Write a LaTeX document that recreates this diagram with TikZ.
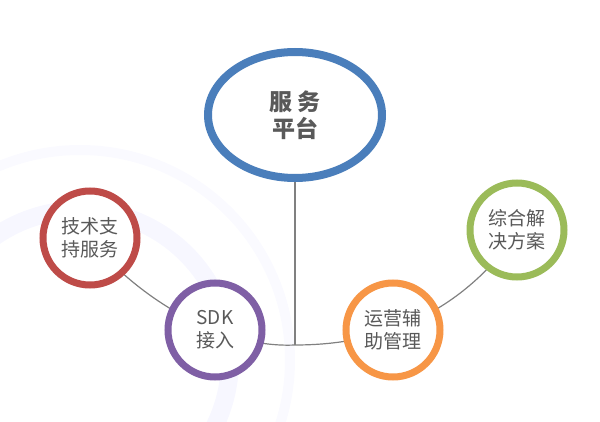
\documentclass[tikz,border=0pt]{standalone}
\usepackage{fontspec}
\setmainfont{Noto Sans CJK SC}
\usetikzlibrary{shapes.geometric}
\definecolor{hubblue}{HTML}{4A7EBB}
\definecolor{leafred}{HTML}{BE4B48}
\definecolor{leafpurple}{HTML}{7F5FA5}
\definecolor{leaforange}{HTML}{F79646}
\definecolor{leafgreen}{HTML}{9BBB59}
\definecolor{textgray}{HTML}{595959}
\tikzset{
  leaf/.style={circle, draw=#1, line width=7pt, fill=white, minimum size=94pt,
    inner sep=0pt, align=center, font=\fontsize{19}{23}\selectfont, text=textgray},
  link/.style={draw=gray, line width=1.2pt}
}
\begin{document}
\begin{tikzpicture}[x=1pt, y=-1pt]
  \useasboundingbox (0,0) rectangle (600,422);
  % faint background rings
  \draw[blue!3, line width=18pt] (80,360) circle (150);
  \draw[blue!2, line width=10pt] (80,360) circle (210);
  \coordinate (joint) at (295,345);
  \draw[link] (90,240) .. controls (150,310) and (230,348) .. (joint)
              .. controls (400,345) and (470,300) .. (518,232);
  \node[ellipse, draw=hubblue, line width=8pt, fill=white, minimum width=174pt,
    minimum height=126pt, align=center, text=textgray,
    font=\bfseries\fontsize{23}{27}\selectfont] (hub) at (295,115) {服 务\\平台};
  \draw[link] (hub.south) -- (joint);
  \node[leaf=leafred] (tech) at (90,238) {技术支\\持服务};
  \node[leaf=leafpurple] (sdk) at (215,330) {SDK\\接入};
  \node[leaf=leaforange] (ops) at (393,330) {运营辅\\助管理};
  \node[leaf=leafgreen] (sol) at (517,230) {综合解\\决方案};
\end{tikzpicture}
\end{document}
